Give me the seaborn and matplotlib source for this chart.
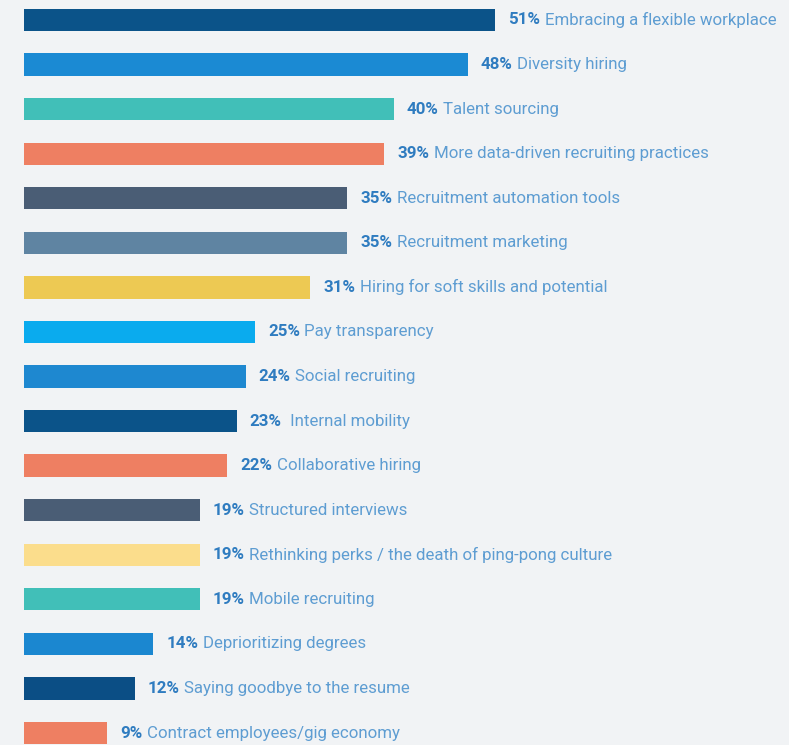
import matplotlib
matplotlib.use("Agg")
import matplotlib.pyplot as plt
import seaborn as sns
import pandas as pd

labels = [
    "Embracing a flexible workplace",
    "Diversity hiring",
    "Talent sourcing",
    "More data-driven recruiting practices",
    "Recruitment automation tools",
    "Recruitment marketing",
    "Hiring for soft skills and potential",
    "Pay transparency",
    "Social recruiting",
    " Internal mobility",
    "Collaborative hiring",
    "Structured interviews",
    "Rethinking perks / the death of ping-pong culture",
    "Mobile recruiting",
    "Deprioritizing degrees",
    "Saying goodbye to the resume",
    "Contract employees/gig economy",
]
values = [51, 48, 40, 39, 35, 35, 31, 25, 24, 23, 22, 19, 19, 19, 14, 12, 9]
colors = [
    "#0B5389", "#1B8AD3", "#41BFB8", "#EE7F62", "#4A5D75", "#5F84A2",
    "#EDC953", "#0AABEE", "#1E88D0", "#0B5389", "#EE7F62", "#4A5D75",
    "#FBDD8C", "#41BFB8", "#1B87D0", "#0B4E85", "#EE7F62",
]

df = pd.DataFrame({"label": labels, "value": values})

sns.set_theme(style="white")
plt.rcParams["font.family"] = ["Roboto", "DejaVu Sans"]

bg = "#F1F3F5"
fig = plt.figure(figsize=(7.89, 7.45), dpi=100, facecolor=bg)
ax = fig.add_axes([24 / 789, 0, 765 / 789, 1])
ax.set_facecolor(bg)

sns.barplot(data=df, x="value", y="label", hue="label", palette=colors,
            legend=False, width=0.5, orient="h", ax=ax, saturation=1,
            linewidth=0)

for i, v in enumerate(values):
    t = ax.text(v + 1.4, i, f"{v}%", va="center", ha="left",
                fontsize=12.2, fontweight="semibold", color="#2F7CC0")
    ax.annotate(labels[i], xy=(1, 0.5), xycoords=t, xytext=(3.2, 0),
                textcoords="offset points", va="center", ha="left",
                fontsize=12.2, color="#5E9DD2")

ax.set_xlim(0, 765 / 9.24)
ax.set_ylim(16 + 12 / 44.6, -20 / 44.6)
ax.set_xlabel("")
ax.set_ylabel("")
ax.set_xticks([])
ax.set_yticks([])
for s in ax.spines.values():
    s.set_visible(False)

fig.savefig("out.png", dpi=100, facecolor=bg)
